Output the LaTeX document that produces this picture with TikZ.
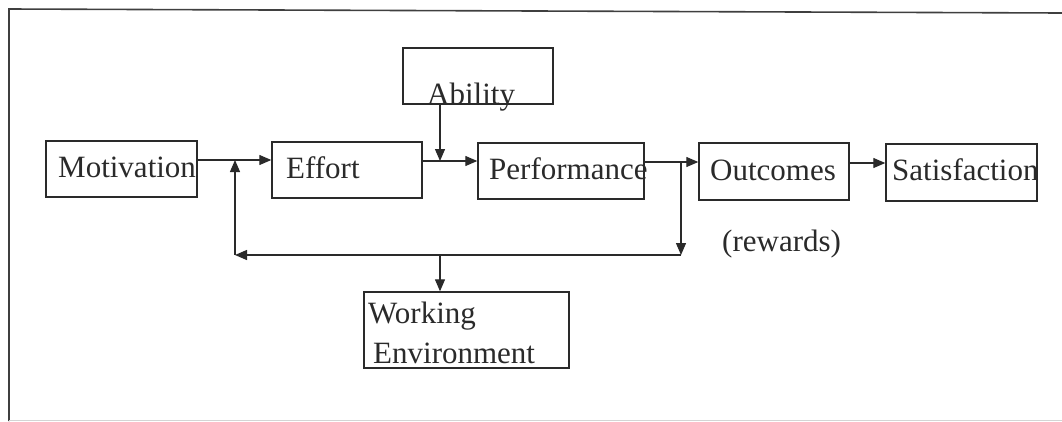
\documentclass[tikz,border=0pt]{standalone}
\usepackage{fontspec}
\setmainfont{Liberation Serif}
\usetikzlibrary{arrows.meta}
\definecolor{ink}{HTML}{2A2A2A}
\tikzset{
  box/.style={draw=ink, line width=1.4pt, inner sep=0pt, rectangle},
  lbl/.style={inner sep=0pt, text=ink, font=\fontsize{31}{36}\selectfont},
  arr/.style={draw=ink, line width=1.3pt, -{Triangle[length=12pt,width=10pt]}},
}
\begin{document}
\begin{tikzpicture}[x=1pt,y=-1pt]
\useasboundingbox (0,0) rectangle (1062,421);
% frame
\draw[draw=ink!90, line width=1.6pt] (9,421) -- (9,9) -- (1062,13);
\draw[draw=ink!20, line width=0.8pt] (9,420) -- (1062,420);
% boxes
\node[box, minimum width=151pt, minimum height=56pt] (mot) at (121.5,169) {};
\node[box, minimum width=150pt, minimum height=56pt] (eff) at (347,170) {};
\node[box, minimum width=166pt, minimum height=56pt] (perf) at (561,171) {};
\node[box, minimum width=150pt, minimum height=57pt] (out) at (774,171.5) {};
\node[box, minimum width=151pt, minimum height=57pt] (sat) at (961.5,172.5) {};
\node[box, minimum width=150pt, minimum height=56pt] (abil) at (478,76) {};
\node[box, minimum width=205pt, minimum height=76pt] (work) at (466.5,330) {};
% labels
\node[lbl, anchor=base west] (tmot) at (58,177) {Motivation};
\node[lbl, anchor=base west] (teff) at (286,178) {Effort};
\node[lbl, anchor=base west] (tperf) at (489,179) {Performance};
\node[lbl, anchor=base west] (tout) at (710,180) {Outcomes};
\node[lbl, anchor=base west] (tsat) at (892,180) {Satisfaction};
\node[lbl, anchor=base west] (tabil) at (427,104) {Ability};
\node[lbl, anchor=base west] (twork) at (368,323) {Working};
\node[lbl, anchor=base west] (tenv) at (373,363) {Environment};
\node[lbl, anchor=base west] (trew) at (722,251) {(rewards)};
% junction coordinates
\coordinate (j1) at (235,160);
\coordinate (j2) at (440,161);
\coordinate (j3) at (681,162);
\coordinate (fbR) at (681,255);
\coordinate (fbL) at (235,255);
\coordinate (fbM) at (440,255);
% connectors
\draw[arr] (mot.east |- j1) -- (eff.west |- j1);
\draw[arr] (eff.east |- j2) -- (perf.west |- j2);
\draw[arr] (abil.south -| j2) -- (j2);
\draw[arr] (perf.east |- j3) -- (out.west |- j3);
\draw[arr] (out.east |- 0,163) -- (sat.west |- 0,163);
\draw[arr] (j3) -- (fbR);
\draw[arr] (fbR) -- (fbL);
\draw[arr] (fbL) -- (j1);
\draw[arr] (fbM) -- (work.north -| fbM);
\end{tikzpicture}
\end{document}
